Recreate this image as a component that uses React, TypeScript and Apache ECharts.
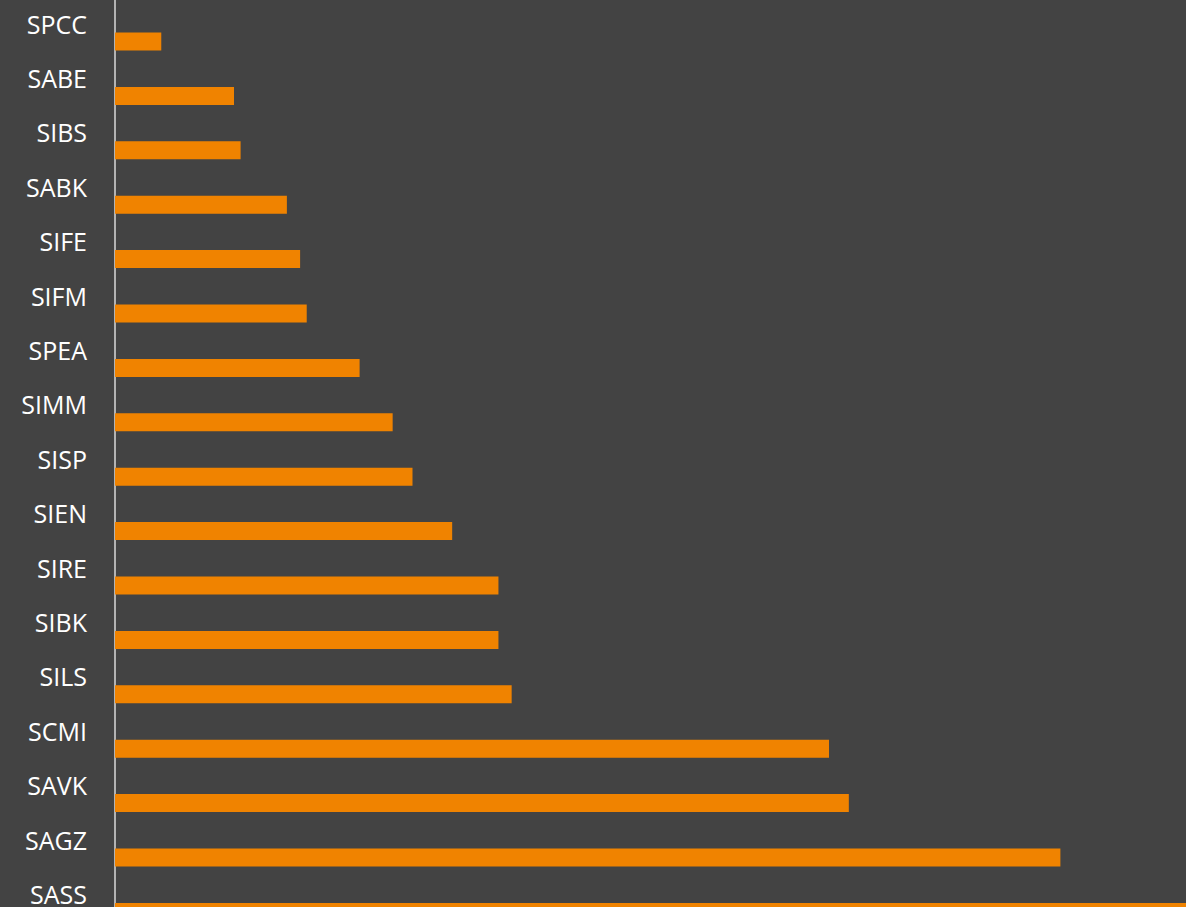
import React, { useEffect, useRef } from "react";
import * as echarts from "echarts";

const categories = [
  "SPCC", "SABE", "SIBS", "SABK", "SIFE", "SIFM", "SPEA", "SIMM", "SISP",
  "SIEN", "SIRE", "SIBK", "SILS", "SCMI", "SAVK", "SAGZ", "SASS",
];
const values = [7, 18, 19, 26, 28, 29, 37, 42, 45, 51, 58, 58, 60, 108, 111, 143, 175];
const placeholder = categories.map(() => "-");
const xMax = 162;

export default function App() {
  const ref = useRef<HTMLDivElement>(null);
  useEffect(() => {
    if (!ref.current) return;
    const chart = echarts.init(ref.current, null, { renderer: "svg" });
    chart.setOption({
      animation: false,
      backgroundColor: "#434343",
      grid: { left: 115, top: 16.3, width: 1071, height: 924.8, containLabel: false },
      xAxis: {
        type: "value",
        min: 0,
        max: xMax,
        show: false,
      },
      yAxis: {
        type: "category",
        data: categories,
        inverse: true,
        axisLine: { show: true, lineStyle: { color: "#d9d9d9", width: 1.5 } },
        axisTick: { show: false },
        splitLine: { show: false },
        axisLabel: {
          color: "#ffffff",
          fontFamily: "Open Sans",
          fontSize: 25,
          margin: 28,
        },
      },
      series: [
        {
          type: "bar",
          data: placeholder,
          barWidth: 18,
          barGap: "100%",
          itemStyle: { color: "#F08300" },
        },
        {
          type: "bar",
          data: values,
          barWidth: 18,
          barGap: "100%",
          itemStyle: { color: "#F08300" },
        },
      ],
    });
    return () => chart.dispose();
  }, []);
  return (
    <div
      ref={ref}
      style={{ position: "absolute", left: 0, top: -20, width: 1186, height: 960 }}
    />
  );
}
